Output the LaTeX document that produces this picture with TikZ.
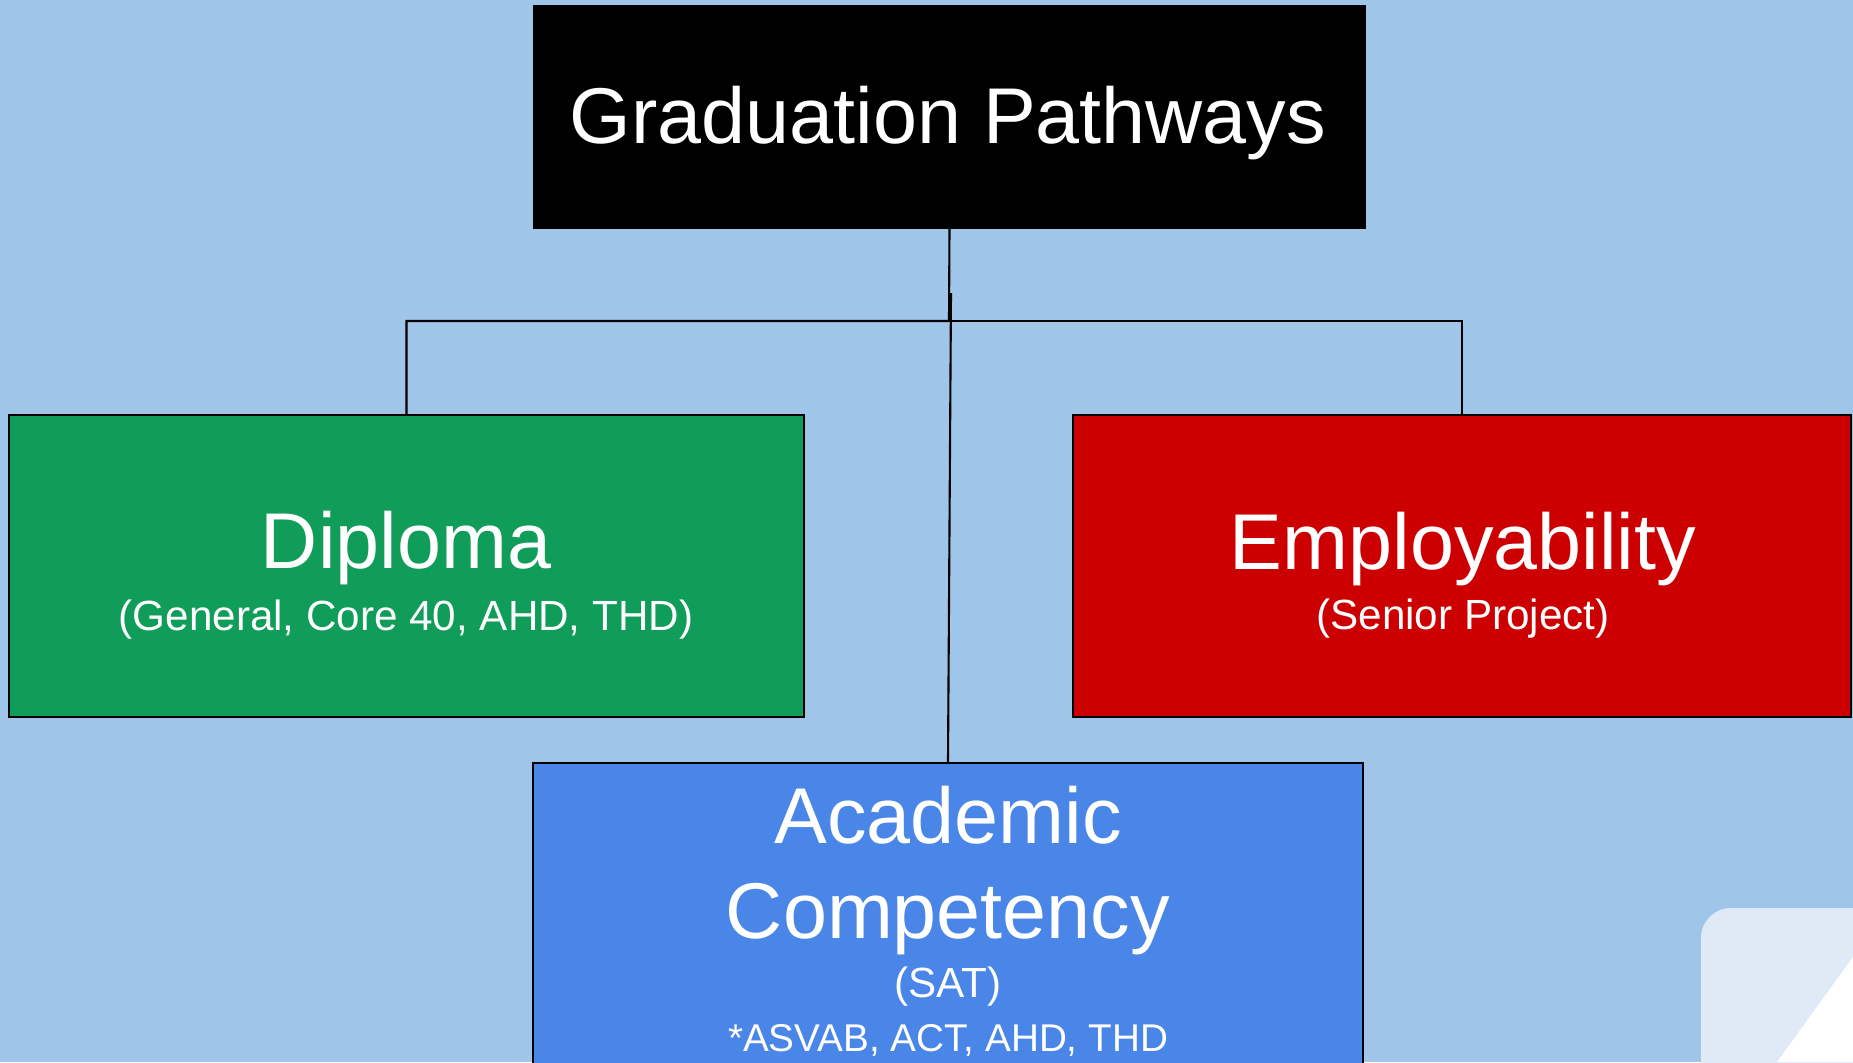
\documentclass[tikz,border=0pt]{standalone}
\usepackage{fontspec}
\setmainfont{Liberation Sans}
\usetikzlibrary{positioning}
\definecolor{slidebg}{HTML}{9FC5E8}
\definecolor{dipgreen}{HTML}{109D59}
\definecolor{empred}{HTML}{CC0000}
\definecolor{acadblue}{HTML}{4A86E8}
\definecolor{cornerpane}{HTML}{DFEAF6}

\begin{document}
\begin{tikzpicture}[x=0.01cm,y=-0.01cm,
	pathbox/.style={draw=black,line width=0.6pt,rectangle,inner sep=0pt},
	bigtxt/.style={text=white,font=\fontsize{22.5}{27}\selectfont,anchor=base,inner sep=0pt},
	smalltxt/.style={text=white,font=\fontsize{12}{14}\selectfont,anchor=base,inner sep=0pt},
	link/.style={draw=black,line width=0.6pt}]
		\useasboundingbox (0,0) rectangle (1853,1062);
		\clip (0,0) rectangle (1853,1062);
		\fill[slidebg] (0,0) rectangle (1853,1062);
		\fill[cornerpane,rounded corners=0.3cm] (1701,908) rectangle (1950,1150);
		\fill[white] (1853,957) -- (1777,1062) -- (1853,1062) -- cycle;

		\node[pathbox,fill=black,minimum width=8.31cm,minimum height=2.22cm] (grad) at (949.5,117) {};
		\node[pathbox,fill=dipgreen,minimum width=7.94cm,minimum height=3.02cm] (dip) at (406.5,566) {};
		\node[pathbox,fill=empred,minimum width=7.78cm,minimum height=3.02cm] (emp) at (1462,566) {};
		\node[pathbox,fill=acadblue,minimum width=8.30cm,minimum height=4cm,anchor=north] (acad) at (948,762) {};

		\node[bigtxt] (gradT) at (948,143) {Graduation Pathways};
		\node[bigtxt] (dipT) at (406,568) {Diploma};
		\node[smalltxt] (dipS) at (406,630) {(General, Core 40, AHD, THD)};
		\node[bigtxt] (empT) at (1463,569) {Employability};
		\node[smalltxt] (empS) at (1463,629) {(Senior Project)};
		\node[bigtxt] (acadT) at (948,843) {Academic};
		\node[bigtxt] (acadT2) at (948,938) {Competency};
		\node[smalltxt] (acadS) at (948,997) {(SAT)};
		\node[smalltxt,font=\fontsize{11}{13}\selectfont] (acadS2) at (948,1051) {*ASVAB, ACT, AHD, THD};

		\coordinate (split) at (949,321);
		\coordinate (drop) at (951,293);
		\draw[link] (grad.south) -- (split) -| (dip.north);
		\draw[link] (split) -| (emp.north);
		\draw[link] (drop) -- (acad.north);
	\end{tikzpicture}
\end{document}
